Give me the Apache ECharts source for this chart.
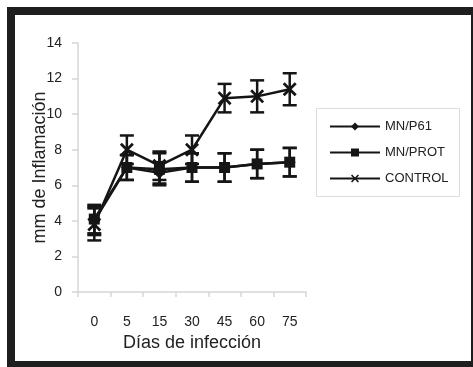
<!DOCTYPE html>
<html><head><meta charset="utf-8">
<script src="https://cdn.jsdelivr.net/npm/echarts@6/dist/echarts.min.js"></script>
<style>html,body{margin:0;padding:0;background:#fff}#c{width:473px;height:367px}</style>
</head><body><div id="c"></div>
<script>
var categories = ['0','5','15','30','45','60','75'];
var p61 = [4.0, 7.0, 6.7, 7.0, 7.0, 7.2, 7.3];
var p61Err = [0.8, 0.7, 0.6, 0.8, 0.8, 0.8, 0.8];
var prot = [4.1, 7.0, 6.9, 7.0, 7.0, 7.2, 7.3];
var protErr = [0.8, 0.7, 0.9, 0.8, 0.8, 0.8, 0.8];
var ctrl = [3.8, 8.0, 7.1, 8.0, 10.9, 11.0, 11.4];
var ctrlErr = [0.9, 0.8, 0.8, 0.8, 0.8, 0.9, 0.9];
var yTicks = {min: 0, max: 14, interval: 2};

var chart = echarts.init(document.getElementById('c'));
var FONT = 'Liberation Sans';
var INK = '#151515';
var xPath = 'path://M0,1.4L1.4,0L5,3.6L8.6,0L10,1.4L6.4,5L10,8.6L8.6,10L5,6.4L1.4,10L0,8.6L3.6,5Z';

function errSeries(vals, errs) {
  return {
    type: 'custom',
    silent: true,
    z: 1,
    data: vals.map(function (v, i) { return [i, v - errs[i], v + errs[i]]; }),
    renderItem: function (params, api) {
      var lo = api.coord([api.value(0), api.value(1)]);
      var hi = api.coord([api.value(0), api.value(2)]);
      var w = 7;
      var st = {stroke: INK, lineWidth: 2.5, fill: null};
      return {type: 'group', children: [
        {type: 'line', shape: {x1: lo[0], y1: lo[1], x2: hi[0], y2: hi[1]}, style: st},
        {type: 'line', shape: {x1: lo[0]-w, y1: lo[1], x2: lo[0]+w, y2: lo[1]}, style: st},
        {type: 'line', shape: {x1: hi[0]-w, y1: hi[1], x2: hi[0]+w, y2: hi[1]}, style: st}
      ]};
    }
  };
}

function lineSeries(name, vals, symbol, size) {
  return {
    name: name, type: 'line', data: vals, symbol: symbol, symbolSize: size,
    showAllSymbol: true, z: 3,
    lineStyle: {color: INK, width: 2.5},
    itemStyle: {color: INK, borderColor: INK, borderWidth: 0}
  };
}

chart.setOption({
  animation: false,
  textStyle: {fontFamily: FONT},
  graphic: [
    {type: 'rect', shape: {x: 11, y: 11, width: 464, height: 354}, style: {fill: null, stroke: '#1e1e1e', lineWidth: 8}, z: 100},
    {type: 'rect', shape: {x: 316.5, y: 108.5, width: 143, height: 88}, style: {fill: '#fff', stroke: '#dcdcdc', lineWidth: 1}, z: -1}
  ],
  grid: {left: 78, right: 167, top: 43, bottom: 75},
  legend: {
    orient: 'vertical', left: 324, top: 115, itemWidth: 50, itemHeight: 10, itemGap: 13,
    textStyle: {fontFamily: FONT, fontSize: 13, color: '#222'},
    data: ['MN/P61', 'MN/PROT', 'CONTROL']
  },
  xAxis: {
    type: 'category', data: categories, boundaryGap: true,
    name: 'Días de infección', nameLocation: 'middle', nameGap: 39,
    nameTextStyle: {fontFamily: FONT, fontSize: 18, color: '#222'},
    axisLine: {lineStyle: {color: '#d6d6d6', width: 1.5}},
    axisTick: {show: true, length: 5, lineStyle: {color: '#d6d6d6', width: 1.5}},
    axisLabel: {fontFamily: FONT, fontSize: 14, color: '#222', margin: 23},
    splitLine: {show: false}
  },
  yAxis: {
    type: 'value', min: yTicks.min, max: yTicks.max, interval: yTicks.interval,
    name: 'mm de Inflamación', nameLocation: 'middle', nameGap: 29, nameMoveOverlap: false,
    nameTextStyle: {fontFamily: FONT, fontSize: 18, color: '#222'},
    axisLine: {show: true, lineStyle: {color: '#d6d6d6', width: 1.5}},
    axisTick: {show: true, length: 6, lineStyle: {color: '#d6d6d6', width: 1.5}},
    axisLabel: {fontFamily: FONT, fontSize: 14, color: '#222', margin: 16},
    splitLine: {show: false}
  },
  series: [
    errSeries(p61, p61Err),
    errSeries(prot, protErr),
    errSeries(ctrl, ctrlErr),
    lineSeries('MN/P61', p61, 'diamond', 12),
    lineSeries('MN/PROT', prot, 'rect', 11),
    lineSeries('CONTROL', ctrl, xPath, 14)
  ]
});
</script></body></html>
